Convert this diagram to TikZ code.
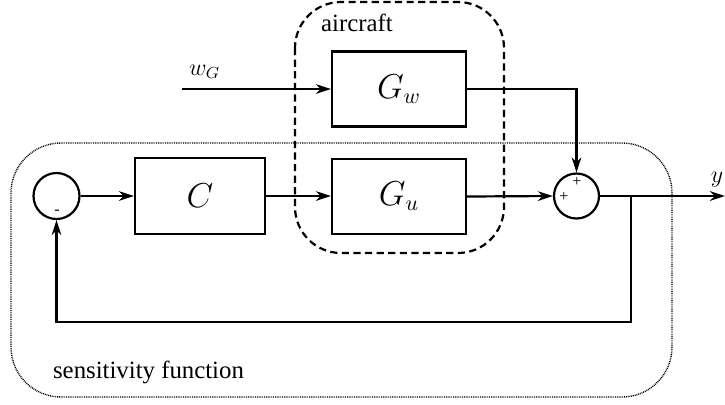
\documentclass[tikz,border=0pt]{standalone}
\usepackage{fontspec}
\setmainfont{Liberation Serif}
\usetikzlibrary{arrows.meta}
\begin{document}
\begin{tikzpicture}[x=0.5pt,y=-0.5pt,
  line width=1.1pt,
  arr/.style={-{Stealth[length=7.5pt,width=4.8pt,inset=2.4pt]}},
  blk/.style={draw,rectangle,minimum width=67pt,minimum height=37.5pt,inner sep=0pt,font=\fontsize{16}{18}\selectfont},
  sumc/.style={draw,circle,minimum size=23pt,inner sep=0pt},
  sgn/.style={inner sep=0pt,font=\fontsize{8}{8}\selectfont},
  lbl/.style={inner sep=0pt,font=\fontsize{12.4}{14}\selectfont},
  dashbox/.style={draw,line width=1.1pt,dash pattern=on 3.6pt off 2.2pt,rounded corners=23pt},
  dotbox/.style={draw,line width=0.7pt,dash pattern=on 0.45pt off 0.45pt,rounded corners=25pt}]
\useasboundingbox (0,0) rectangle (725,404);
% frames
\draw[dashbox] (295,2) rectangle (504,253);
\draw[dotbox] (11,143) rectangle (672,397);
\node[lbl,anchor=west] (lair) at (320,23) {aircraft};
\node[lbl,anchor=west] (lsens) at (52,372) {sensitivity function};
% blocks
\node[sumc] (s1) at (56.5,196) {};
\node[blk,minimum width=65pt,minimum height=38pt] (C) at (200,196) {$C$};
\node[blk] (Gu) at (399,196.5) {$G_u$};
\node[blk] (Gw) at (399,89) {$G_w$};
\node[sumc,minimum size=22.5pt] (s2) at (576.5,196) {};
\node[sgn] (m1) at (57,212) {-};
\node[sgn] (p1) at (577,182) {+};
\node[sgn] (p2) at (564,197) {+};
% signals
\coordinate (win) at (182,89);
\node[lbl,anchor=west,font=\fontsize{12}{14}\selectfont] (lw) at (188,72) {$w_G$};
\coordinate (yout) at (725,196);
\node[lbl,font=\fontsize{12}{14}\selectfont] (ly) at (717,180) {$y$};
\coordinate (br) at (631,196);
\coordinate (bd) at (631,322);
\coordinate (bl) at (56.5,322);
% connectors
\draw[arr] (s1.east) -- (C.west);
\draw[arr] (C.east) -- (C.east -| Gu.west);
\draw[arr] (Gu.east) -- (s2.west);
\draw[arr] (win) -- (Gw.west);
\draw[arr] (Gw.east) -| (s2.north);
\draw[arr] (s2.east) -- (yout);
\draw[arr] (br) -- (bd) -- (bl) -- (s1.south);
\end{tikzpicture}
\end{document}
